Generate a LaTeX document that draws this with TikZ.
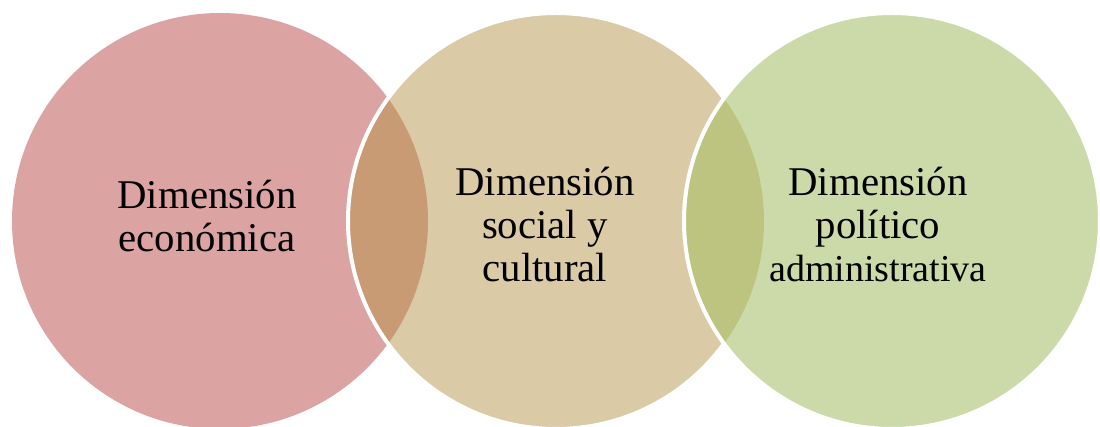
\documentclass[tikz,border=0pt]{standalone}
\usepackage{fontspec}
\setmainfont{Liberation Serif}
\usepackage{tikz}

\definecolor{ecoRed}{RGB}{220,163,163}
\definecolor{socTan}{RGB}{218,202,166}
\definecolor{polGreen}{RGB}{204,218,170}
\definecolor{lensTan}{RGB}{201,155,117}
\definecolor{lensOlive}{RGB}{189,196,128}

\begin{document}
\begin{tikzpicture}[x=0.5pt,y=0.5pt]
      \tikzstyle{every node}=[align=center,inner sep=0pt,
			      font=\fontsize{20.4}{21.5}\selectfont]
      \tikzstyle{rim}=[draw=white,line width=2pt]
      \useasboundingbox (0,0) rectangle (1100,427);
      \coordinate (eco) at (220,206);
      \coordinate (soc) at (556,206);
      \coordinate (pol) at (892,206);
      % circles, left to right, with the overlaps darker
      \fill[ecoRed] (eco) circle (104pt);
      \fill[socTan] (soc) circle (104pt);
      \begin{scope}
	  \clip (eco) circle (104pt);
	  \fill[lensTan] (soc) circle (104pt);
      \end{scope}
      \draw[rim] (soc) circle (104pt);
      \fill[polGreen] (pol) circle (104pt);
      \begin{scope}
	  \clip (soc) circle (104pt);
	  \fill[lensOlive] (pol) circle (104pt);
      \end{scope}
      \draw[rim] (pol) circle (104pt);
      % labels
      \node (ecoText) at (207,211) {Dimensión\\económica};
      \node (socText) at (545,202) {Dimensión\\social y\\cultural};
      \node (polText) at (878,202) {Dimensión\\político\\
	  {\fontsize{19}{21.5}\selectfont administrativa}};
  \end{tikzpicture}
\end{document}
